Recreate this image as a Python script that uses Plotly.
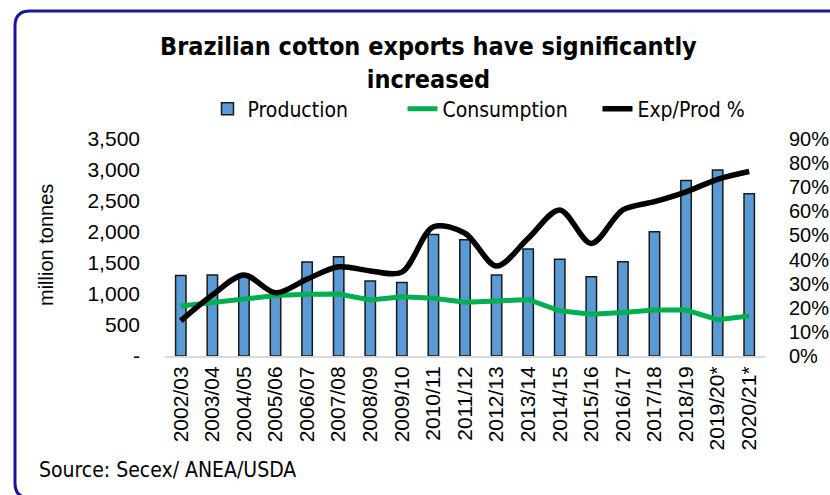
import plotly.graph_objects as go

categories = ["2002/03", "2003/04", "2004/05", "2005/06", "2006/07", "2007/08", "2008/09",
              "2009/10", "2010/11", "2011/12", "2012/13", "2013/14", "2014/15", "2015/16",
              "2016/17", "2017/18", "2018/19", "2019/20*", "2020/21*"]
production = [1300, 1305, 1285, 1020, 1515, 1600, 1210, 1185, 1960, 1875, 1305, 1725,
              1560, 1280, 1520, 2005, 2830, 3000, 2615]
consumption = [805, 860, 935, 975, 995, 1000, 905, 955, 930, 866, 887, 912, 730, 672,
               700, 742, 742, 585, 645]
exp_prod = [0.146, 0.253, 0.336, 0.262, 0.319, 0.370, 0.353, 0.348, 0.536, 0.509, 0.373,
            0.488, 0.606, 0.467, 0.606, 0.640, 0.681, 0.733, 0.765]

left_tickvals = [0, 500, 1000, 1500, 2000, 2500, 3000, 3500]
left_ticktext = ["-", "500", "1,000", "1,500", "2,000", "2,500", "3,000", "3,500"]
right_tickvals = [0, 0.1, 0.2, 0.3, 0.4, 0.5, 0.6, 0.7, 0.8, 0.9]

W, H = 830, 495
L, R, T, B = 165, 765, 139, 356


def px(x):
    return (x - L) / (R - L)


def py(y):
    return (B - y) / (B - T)


COND = "DejaVu Sans Condensed, Liberation Sans, Arial, sans-serif"
ARIAL = "Liberation Sans, Arial, sans-serif"

fig = go.Figure()
fig.add_trace(go.Bar(x=categories, y=production, name="Production", width=0.33,
                     marker=dict(color="#5B9BD5", line=dict(color="#1a1a1a", width=1.5)),
                     yaxis="y"))
fig.add_trace(go.Scatter(x=categories, y=consumption, name="Consumption", mode="lines",
                         line=dict(color="#00B050", width=5), yaxis="y"))
fig.add_trace(go.Scatter(x=categories, y=exp_prod, name="Exp/Prod %", mode="lines",
                         line=dict(color="#000000", width=5.5, shape="spline", smoothing=0.9),
                         yaxis="y2"))

# frame with rounded corners
r = 15
x0, y0, x1, y1 = 15, 11, 840, 498
path = (f"M {px(x1)},{py(y0)} L {px(x0 + r)},{py(y0)} "
        f"Q {px(x0)},{py(y0)} {px(x0)},{py(y0 + r)} "
        f"L {px(x0)},{py(y1 - r)} Q {px(x0)},{py(y1)} {px(x0 + r)},{py(y1)} L {px(x1)},{py(y1)}")

fig.update_layout(
    width=W, height=H,
    margin=dict(l=L, r=W - R, t=T, b=H - B, autoexpand=False),
    paper_bgcolor="white", plot_bgcolor="white",
    showlegend=True,
    legend=dict(orientation="h", xref="container", yref="container",
                x=500 / W, xanchor="center", y=1 - 109 / H, yanchor="middle",
                font=dict(family=COND, size=21, color="#000"), traceorder="normal",
                entrywidth=150, bgcolor="rgba(0,0,0,0)"),
    xaxis=dict(type="category", tickangle=-90, showline=True, linecolor="#D9D9D9",
               linewidth=2, showgrid=False, ticks="", range=[-0.5, len(categories) - 0.5],
               tickfont=dict(family=ARIAL, size=21, color="#000")),
    yaxis=dict(range=[0, 3500], tickvals=left_tickvals, ticktext=left_ticktext,
               showgrid=False, zeroline=False, ticks="", ticklabelstandoff=24,
               tickfont=dict(family=ARIAL, size=21, color="#000")),
    yaxis2=dict(range=[0, 0.9], tickvals=right_tickvals, tickformat=".0%",
                overlaying="y", side="right", showgrid=False, zeroline=False, ticks="",
                ticklabelstandoff=23,
                tickfont=dict(family=ARIAL, size=20, color="#000")),
    bargap=0.6,
    shapes=[dict(type="path", xref="paper", yref="paper", path=path,
                 line=dict(color="#16169a", width=3), layer="above")],
    annotations=[
        dict(text="<b>Brazilian cotton exports have significantly<br>increased</b>",
             xref="paper", yref="paper", x=px(428), y=py(63),
             xanchor="center", yanchor="middle", showarrow=False,
             font=dict(family=COND, size=25, color="#000")),
        dict(text="million tonnes", xref="paper", yref="paper", x=px(46), y=py(245),
             xanchor="center", yanchor="middle", textangle=-90, showarrow=False,
             font=dict(family=ARIAL, size=20, color="#000")),
        dict(text="Source: Secex/ ANEA/USDA", xref="paper", yref="paper", x=px(37),
             y=py(470), xanchor="left", yanchor="middle", showarrow=False,
             font=dict(family=COND, size=21, color="#000")),
    ],
)

fig.write_html("out.html")
